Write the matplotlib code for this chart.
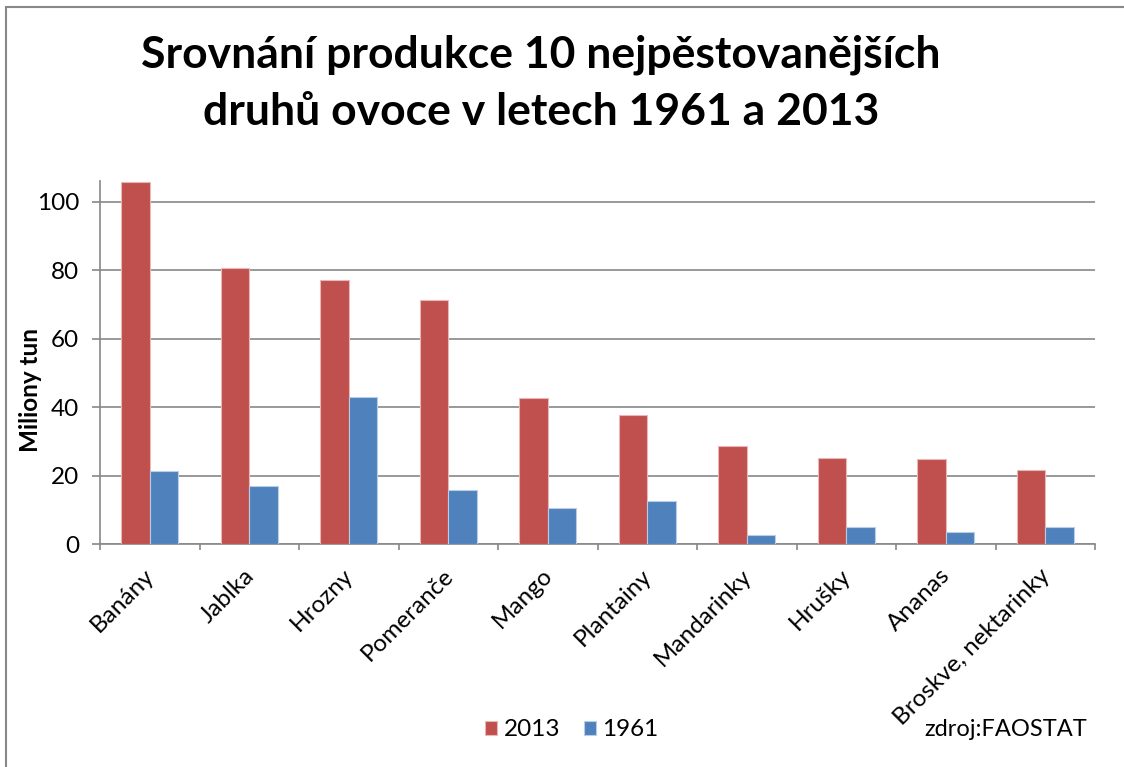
import numpy as np
import matplotlib.pyplot as plt
from matplotlib.patches import Rectangle

plt.rcParams["font.family"] = ["Lato", "DejaVu Sans"]

# data (millions of tonnes)
druhy = ["Banány", "Jablka", "Hrozny", "Pomeranče", "Mango", "Plantainy",
         "Mandarinky", "Hrušky", "Ananas", "Broskve, nektarinky"]
prod_2013 = [105.9, 80.8, 77.2, 71.3, 42.6, 37.8, 28.6, 25.1, 24.8, 21.6]
prod_1961 = [21.3, 17.0, 42.9, 15.8, 10.7, 12.6, 2.6, 5.0, 3.6, 5.0]

c2013 = "#C0504D"
c1961 = "#4F81BD"
grey = "#888888"
fs = 17.5

fig = plt.figure(figsize=(11.24, 7.67), dpi=100)
ax = fig.add_axes([100/1124, 1 - 544.3/767, 995/1124, (544.3 - 181)/767])

x = np.arange(len(druhy))
w = 0.285
ax.bar(x - w/2, prod_2013, w, color=c2013, edgecolor="#E6B9B8", linewidth=0.8,
       label="2013", zorder=3)
ax.bar(x + w/2, prod_1961, w, color=c1961, edgecolor="#B9CDE5", linewidth=0.8,
       label="1961", zorder=3)

ax.set_xlim(-0.5, len(druhy) - 0.5)
ax.set_ylim(0, 106.1)
ax.set_yticks([0, 20, 40, 60, 80, 100])
ax.yaxis.grid(True, color=grey, linewidth=1.2, zorder=0)
ax.tick_params(axis="y", length=6, width=1.2, color=grey, labelsize=fs, pad=9)

# category boundary ticks
ax.set_xticks(np.arange(len(druhy) + 1) - 0.5)
ax.set_xticklabels([])
ax.tick_params(axis="x", length=4.5, width=1.2, color=grey)
for i, name in enumerate(druhy):
    ax.text(i - 0.06, -6.0, name, rotation=45, ha="right", va="top",
            rotation_mode="anchor", fontsize=17.5)

for s in ["top", "right"]:
    ax.spines[s].set_visible(False)
for s in ["left", "bottom"]:
    ax.spines[s].set_color(grey)
    ax.spines[s].set_linewidth(1.2)

fig.text(30/1124, 1 - 390/767, "Miliony tun", rotation=90, ha="center",
         va="center", fontsize=17.5, fontweight="bold")

fig.text(541/1124, 1 - 83/767,
         "Srovnání produkce 10 nejpěstovanějších\ndruhů ovoce v letech 1961 a 2013",
         ha="center", va="center", fontsize=32, fontweight="bold",
         linespacing=1.52)

fig.legend(loc="center", bbox_to_anchor=(572/1124, 1 - 730/767), ncol=2,
           frameon=False, fontsize=fs, handlelength=0.5, handleheight=0.55,
           handletextpad=0.25, columnspacing=1.0)

fig.text(1006/1124, 1 - 729/767, "zdroj:FAOSTAT", ha="center", va="center",
         fontsize=17)

# chart border
fig.patches.append(Rectangle((6/1124, -0.1), 1.2, 1 - 7/767 + 0.1,
                             transform=fig.transFigure, fill=False,
                             edgecolor=grey, linewidth=1.5))

fig.savefig("out.png", dpi=100)
